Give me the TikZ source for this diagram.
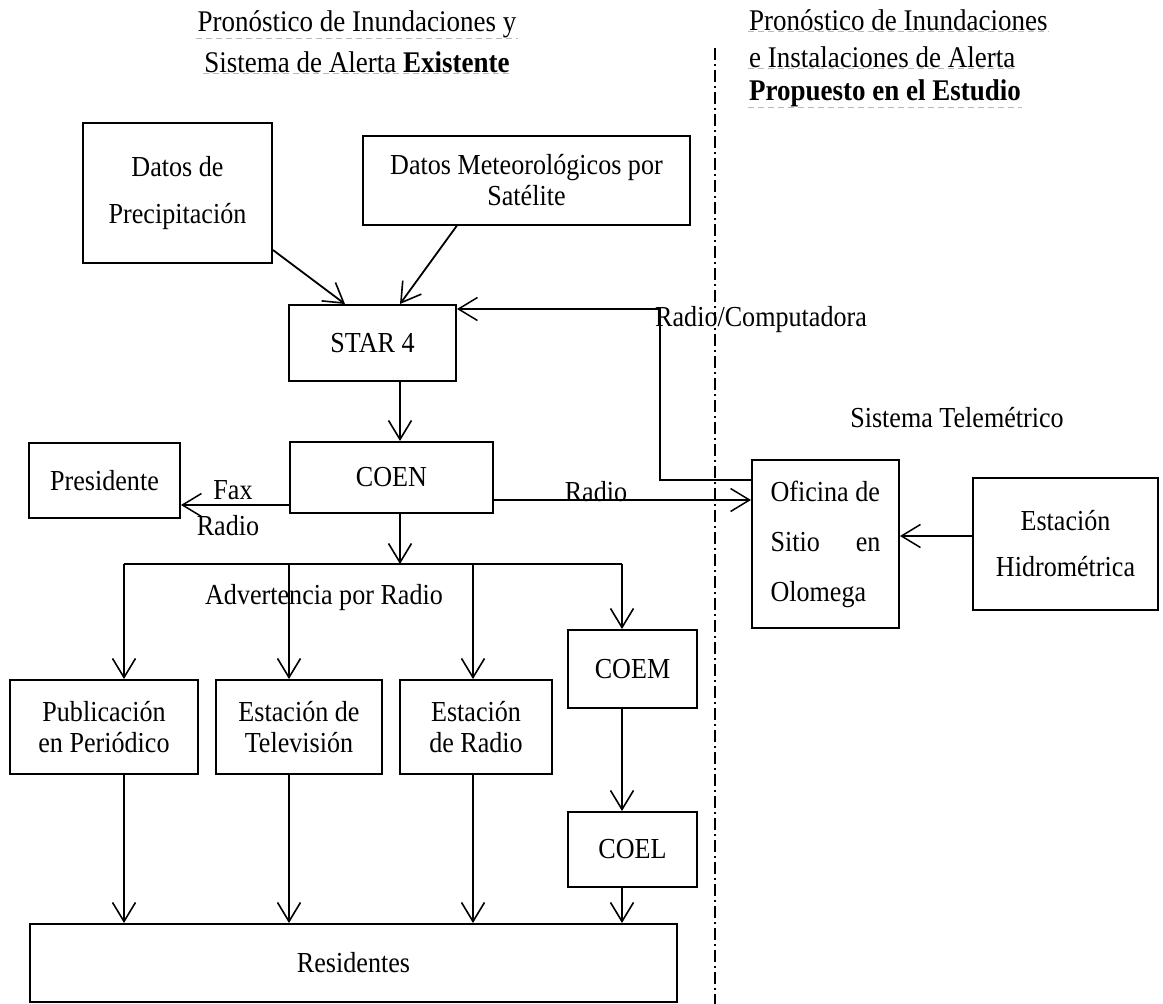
\documentclass[tikz,border=0pt]{standalone}
\usepackage{fontspec}
\setmainfont[FakeStretch=0.9]{Liberation Serif}
\usetikzlibrary{arrows.meta}
\begin{document}
\begin{tikzpicture}[x=1pt,y=-1pt,
  box/.style={draw, line width=2pt, align=center, inner sep=0pt,
    font=\fontsize{29}{31}\selectfont},
  lbl/.style={font=\fontsize{29}{30}\selectfont, inner sep=0pt},
  hdr/.style={font=\fontsize{30}{32}\selectfont, inner sep=1pt},
  arr/.style={line width=1.8pt, -{Straight Barb[length=19pt,width=23pt,line width=1.6pt]}},
  thinarr/.style={line width=1.1pt, -{Straight Barb[length=19pt,width=23pt,line width=1.5pt]}},
  conn/.style={line width=1.8pt},
  faint/.style={gray!55, line width=0.8pt, dash pattern=on 6pt off 4pt},
  dashdot/.style={line width=1.8pt, dash pattern=on 12pt off 4pt on 2pt off 4pt}]
\useasboundingbox (0,0) rectangle (1163,1004);
% headers
\node[hdr] (h1) at (357,24) {Pronóstico de Inundaciones y};
\node[hdr] (h2) at (357,62) {Sistema de Alerta \textbf{Existente}};
\node[hdr, anchor=west] (h3) at (748,20) {Pronóstico de Inundaciones};
\node[hdr, anchor=west] (h4) at (748,57) {e Instalaciones de Alerta};
\node[hdr, anchor=west] (h5) at (748,93) {\textbf{Propuesto en el Estudio}};
\draw[faint] (h1.south west) -- (h1.south east);
\draw[faint] (h2.south west) -- (h2.south east);
\draw[faint] (h3.south west) -- (h3.south east);
\draw[faint] (h4.south west) -- (h4.south east);
\draw[faint] (h5.south west) -- (h5.south east);
% separator
\coordinate (sepT) at (715,48);
\coordinate (sepB) at (715,1004);
\draw[dashdot] (sepT) -- (sepB);
% boxes
\node[box, minimum width=189pt, minimum height=140pt, font=\fontsize{29}{47}\selectfont] (prec) at (177.5,193) {Datos de\\Precipitación};
\node[box, minimum width=327pt, minimum height=89pt] (sat) at (526.5,180) {Datos Meteorológicos por\\Satélite};
\node[box, minimum width=167pt, minimum height=76pt] (star) at (372.5,343) {STAR 4};
\node[box, minimum width=203pt, minimum height=71pt] (coen) at (391.5,477.5) {COEN};
\node[box, minimum width=151pt, minimum height=75pt] (pres) at (104.5,480.5) {Presidente};
\node[box, minimum width=188pt, minimum height=94pt] (pub) at (104,727) {Publicación\\en Periódico};
\node[box, minimum width=166pt, minimum height=94pt] (tv) at (299,727) {Estación de\\Televisión};
\node[box, minimum width=152pt, minimum height=94pt] (rad) at (476,727) {Estación\\de Radio};
\node[box, minimum width=129pt, minimum height=78pt] (coem) at (632.5,669) {COEM};
\node[box, minimum width=129pt, minimum height=75pt] (coel) at (632.5,849.5) {COEL};
\node[box, minimum width=647pt, minimum height=78pt] (res) at (353.5,963) {Residentes};
\node[box, minimum width=147pt, minimum height=168pt, font=\fontsize{29}{50}\selectfont] (ofi) at (825.5,544)
  {\makebox[110pt][l]{Oficina de}\\\makebox[110pt][s]{Sitio\hfill en}\\\makebox[110pt][l]{Olomega}};
\node[box, minimum width=185pt, minimum height=132pt, font=\fontsize{29}{46}\selectfont] (hid) at (1065.5,544) {Estación\\Hidrométrica};
% labels
\node[lbl] (tel) at (957,418) {Sistema Telemétrico};
\node[lbl, anchor=west] (rclbl) at (655,320) {Radio/Computadora};
\node[lbl, anchor=base] (radlbl) at (596,501) {Radio};
\node[lbl] (faxlbl) at (233,490) {Fax};
\node[lbl] (fradlbl) at (228,526) {Radio};
\node[lbl] (adv) at (324,598) {Advertencia por Radio};
% top arrows
\coordinate (pa) at (345,0);
\coordinate (sa) at (400,0);
\coordinate (sb) at (457,0);
\draw[arr] ([yshift=14pt]prec.south east) -- (star.north -| pa);
\draw[arr] (sat.south -| sb) -- (star.north -| sa);
\draw[arr] (star.south -| sa) -- (coen.north -| sa);
% radio/computadora
\coordinate (rcA) at (660,480);
\coordinate (rcB) at (660,309);
\draw[thinarr] (ofi.west |- rcA) -- (rcA) -- (rcB) -- (star.east |- rcB);
% COEN radio to oficina
\coordinate (ry) at (0,500);
\draw[thinarr] (coen.east |- ry) -- (ofi.west |- ry);
% fax radio to presidente
\coordinate (fy) at (0,505);
\draw[thinarr] (coen.west |- fy) -- (pres.east |- fy);
% hidro to oficina
\coordinate (hy) at (0,536);
\draw[thinarr] (hid.west |- hy) -- (ofi.east |- hy);
% bus
\coordinate (bus) at (400,564);
\coordinate (d1) at (124,564);
\coordinate (d2) at (289,564);
\coordinate (d3) at (473,564);
\coordinate (d4) at (622,564);
\draw[arr] (coen.south -| bus) -- (bus);
\draw[conn] (d1) -- (d4);
\draw[arr] (d1) -- (d1 |- pub.north);
\draw[arr] (d2) -- (d2 |- tv.north);
\draw[arr] (d3) -- (d3 |- rad.north);
\draw[arr] (d4) -- (d4 |- coem.north);
\draw[arr] (pub.south -| d1) -- (res.north -| d1);
\draw[arr] (tv.south -| d2) -- (res.north -| d2);
\draw[arr] (rad.south -| d3) -- (res.north -| d3);
\draw[arr] (coem.south -| d4) -- (coel.north -| d4);
\draw[arr] (coel.south -| d4) -- (res.north -| d4);
\end{tikzpicture}
\end{document}
